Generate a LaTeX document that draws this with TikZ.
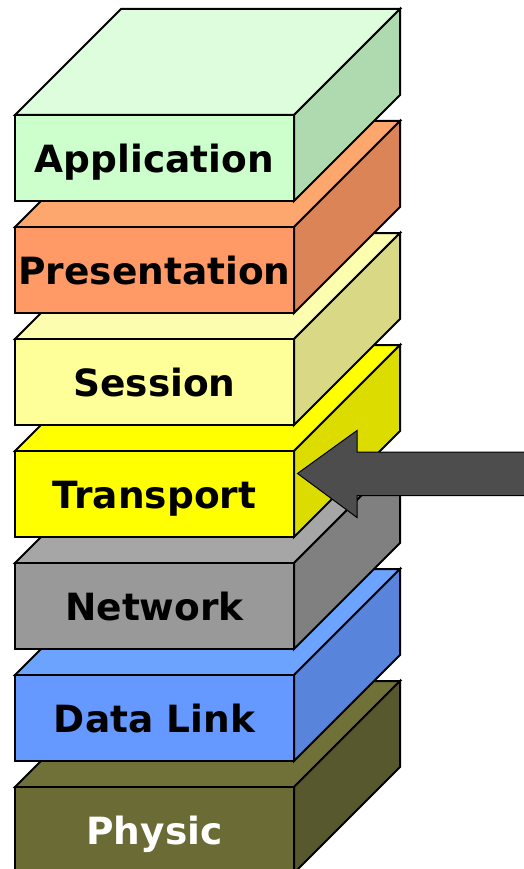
\documentclass[tikz,border=0pt]{standalone}
\usepackage{fontspec}
\setmainfont{DejaVu Sans}
\definecolor{appF}{HTML}{CCFFCC}\definecolor{appT}{HTML}{DDFDDD}\definecolor{appS}{HTML}{AFDAAF}
\definecolor{preF}{HTML}{FF9966}\definecolor{preT}{HTML}{FDA66E}\definecolor{preS}{HTML}{DA8457}
\definecolor{sesF}{HTML}{FFFF99}\definecolor{sesT}{HTML}{FDFDB0}\definecolor{sesS}{HTML}{D9D985}
\definecolor{traF}{HTML}{FFFF00}\definecolor{traT}{HTML}{FFFF00}\definecolor{traS}{HTML}{DCDC00}
\definecolor{netF}{HTML}{999999}\definecolor{netT}{HTML}{A6A6A6}\definecolor{netS}{HTML}{808080}
\definecolor{datF}{HTML}{6699FF}\definecolor{datT}{HTML}{6BA3FF}\definecolor{datS}{HTML}{5885DB}
\definecolor{phyF}{HTML}{6B6B35}\definecolor{phyT}{HTML}{707039}\definecolor{phyS}{HTML}{58582E}
\definecolor{arrowgray}{HTML}{4D4D4D}
\tikzset{
  facestyle/.style={draw=black,line width=2pt,line join=miter},
  labelstyle/.style={font=\fontsize{37.5}{40}\selectfont\bfseries,anchor=base,inner sep=0pt},
  arrowstyle/.style={fill=arrowgray,draw=black,line width=1pt,line join=miter}
}
% #1 top y, #2 colour prefix, #3 text colour, #4 label, #5 node name
\newcommand\osilayer[5]{%
  \begin{scope}[shift={(0,#1)}]
    \filldraw[facestyle,fill=#2T] (15,0) -- (121,-106) -- (400,-106) -- (294,0) -- cycle;
    \filldraw[facestyle,fill=#2S] (294,0) -- (400,-106) -- (400,-20) -- (294,86) -- cycle;
    \filldraw[facestyle,fill=#2F] (15,0) rectangle (294,86);
    \node[labelstyle,text=#3] (#5) at (154.5,57) {#4};
  \end{scope}}
\begin{document}
\begin{tikzpicture}[x=1pt,y=-1pt]
\useasboundingbox (0,0) rectangle (524,869);
\clip (0,0) rectangle (524,869);
\osilayer{787}{phy}{white}{Physic}{physic}
\osilayer{675}{dat}{black}{Data Link}{datalink}
\osilayer{563}{net}{black}{Network}{network}
\osilayer{451}{tra}{black}{Transport}{transport}
\osilayer{339}{ses}{black}{Session}{session}
\osilayer{227}{pre}{black}{Presentation}{presentation}
\osilayer{115}{app}{black}{Application}{application}
\coordinate (arrowtip) at (297.5,473.5);
\filldraw[arrowstyle] (arrowtip) -- (357,430.5) -- (357,452) -- (530,452) -- (530,495.5) -- (357,495.5) -- (357,517.5) -- cycle;
\end{tikzpicture}
\end{document}
